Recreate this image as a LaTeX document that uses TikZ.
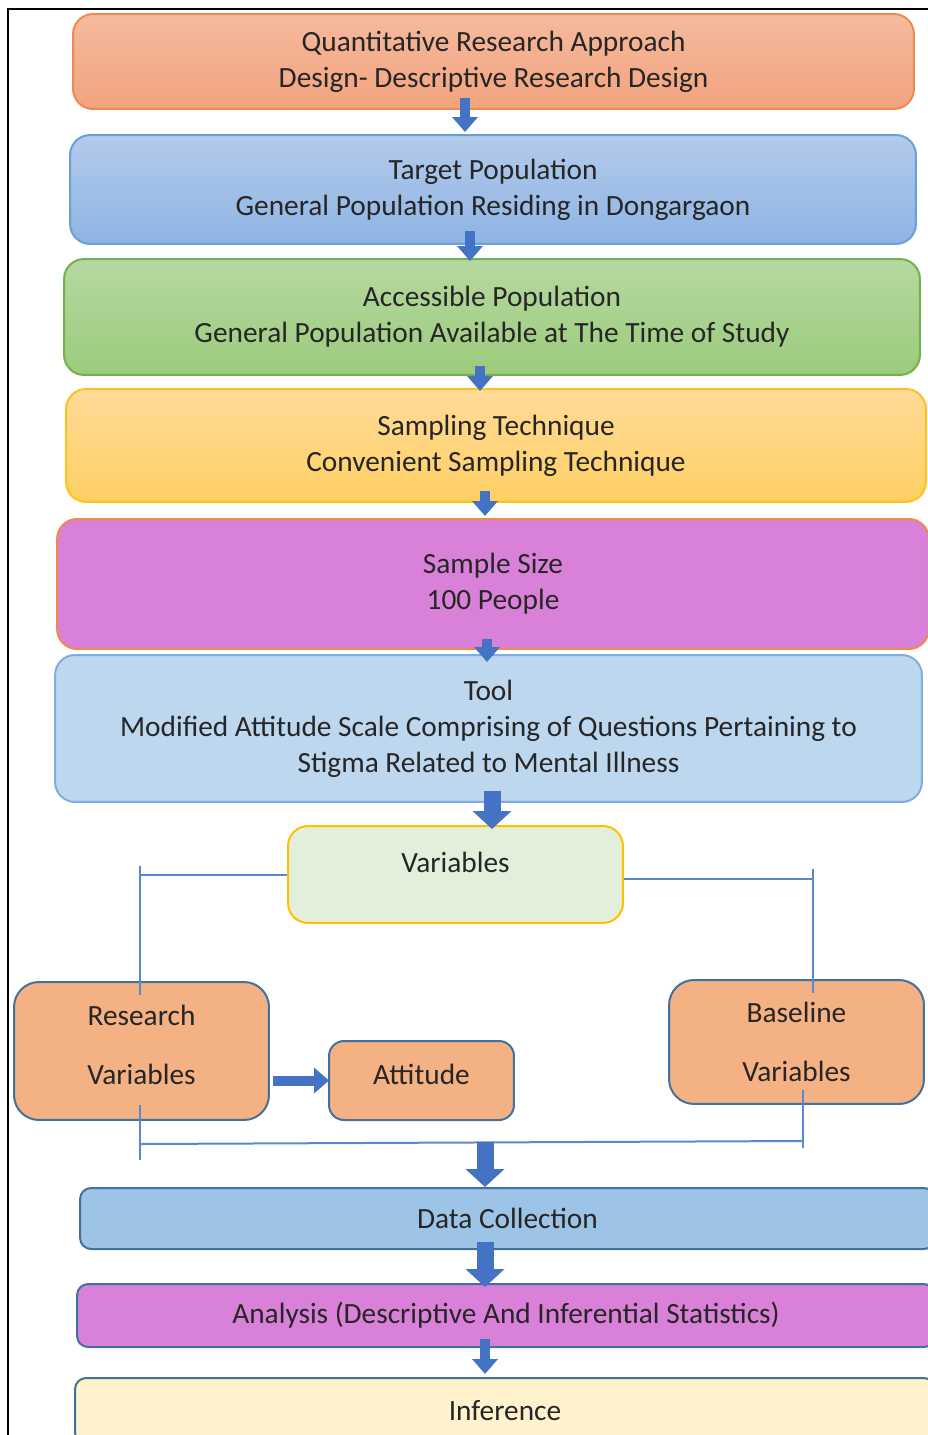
\documentclass[tikz,border=0pt]{standalone}
\usepackage{fontspec}
\setmainfont{Carlito}
\usepackage{xcolor}
\usetikzlibrary{arrows.meta,calc,positioning}
\definecolor{txtgray}{HTML}{262626}
\definecolor{flowblue}{HTML}{4472C4}
\definecolor{linkblue}{HTML}{5A88CF}
\definecolor{edgedark}{HTML}{41719C}
\definecolor{peach}{HTML}{F4B183}
\definecolor{apptop}{HTML}{F5BA9E}
\definecolor{appbot}{HTML}{F2A37E}
\definecolor{appedge}{HTML}{EE8A4F}
\definecolor{tartop}{HTML}{B3CBEB}
\definecolor{tarbot}{HTML}{8EB4E3}
\definecolor{taredge}{HTML}{6A9FD8}
\definecolor{acctop}{HTML}{B6D8A1}
\definecolor{accbot}{HTML}{9BCB7C}
\definecolor{accedge}{HTML}{74B04B}
\definecolor{samtop}{HTML}{FFDB99}
\definecolor{sambot}{HTML}{FFCF63}
\definecolor{samedge}{HTML}{FFC21A}
\definecolor{orchid}{HTML}{D980D9}
\definecolor{toolfill}{HTML}{BDD7EE}
\definecolor{tooledge}{HTML}{7EAEE0}
\definecolor{varfill}{HTML}{E2EFDA}
\definecolor{varedge}{HTML}{FFC000}
\definecolor{colfill}{HTML}{9DC3E6}
\definecolor{inffill}{HTML}{FFF2CC}
\tikzset{%
	stage/.style    = {draw, rectangle, rounded corners=0.4cm, line width=0.04cm, align=center, text=txtgray, font=\fontsize{16.7}{20.5}\selectfont},
	varbox/.style   = {stage, fill=peach, draw=edgedark, rounded corners=0.5cm},
	bar/.style      = {stage, draw=edgedark, rounded corners=0.22cm},
	flow/.style     = {draw=flowblue, line width=0.2cm, -{Triangle[width=0.5cm,length=0.3cm]}},
	bigflow/.style  = {draw=flowblue, line width=0.34cm, -{Triangle[width=0.76cm,length=0.36cm]}},
	link/.style     = {draw=linkblue, line width=0.04cm},
}

\begin{document}
\begin{tikzpicture}[x=0.02cm, y=-0.02cm]
	\clip (0,0) rectangle (928,1435);
	\draw[line width=0.03cm] (8,1435) -- (8,9) -- (928,9);
	% main column
	\node[stage, top color=apptop, bottom color=appbot, draw=appedge, minimum width=16.82cm, minimum height=1.9cm] (approach) at (493.5,61.5) {Quantitative Research Approach\\Design- Descriptive Research Design};
	\node[stage, top color=tartop, bottom color=tarbot, draw=taredge, minimum width=16.92cm, minimum height=2.18cm] (target) at (493,189.5) {Target Population\\General Population Residing in Dongargaon};
	\node[stage, top color=acctop, bottom color=accbot, draw=accedge, minimum width=17.12cm, minimum height=2.32cm] (access) at (492,317) {Accessible Population\\General Population Available at The Time of Study};
	\node[stage, top color=samtop, bottom color=sambot, draw=samedge, minimum width=17.2cm, minimum height=2.26cm] (sampling) at (496,445.5) {Sampling Technique\\Convenient Sampling Technique};
	\node[stage, fill=orchid, draw=appedge, minimum width=17.44cm, minimum height=2.6cm] (size) at (493,584) {Sample Size\\100 People};
	\node[stage, fill=toolfill, draw=tooledge, minimum width=17.34cm, minimum height=2.94cm] (tool) at (488.5,728.5) {Tool\\Modified Attitude Scale Comprising of Questions Pertaining to\\Stigma Related to Mental Illness};
	% variables
	\node[stage, fill=varfill, draw=varedge, minimum width=6.7cm, minimum height=1.94cm] (vars) at (455.5,874.5) {Variables\\[-7pt]\mbox{}};
	\node[varbox, minimum width=5.1cm, minimum height=2.76cm] (resvar) at (141.5,1051) {Research\\[13pt]Variables\\[-13pt]\mbox{}};
	\node[varbox, rounded corners=0.3cm, minimum width=3.7cm, minimum height=1.58cm] (attit) at (421.5,1080.5) {Attitude\\[-13pt]\mbox{}};
	\node[varbox, minimum width=5.1cm, minimum height=2.48cm] (basevar) at (796.5,1042) {Baseline\\[13pt]Variables};
	% lower column
	\node[bar, fill=colfill, minimum width=17.1cm, minimum height=1.22cm] (collect) at (507.5,1218.5) {Data Collection};
	\node[bar, fill=orchid, minimum width=17.16cm, minimum height=1.26cm] (analysis) at (506,1315.5) {Analysis (Descriptive And Inferential Statistics)};
	\node[bar, fill=inffill, minimum width=17.2cm, minimum height=1.32cm] (infer) at (505,1411) {Inference};
	% branch lines
	\coordinate (lt) at (140,866);
	\coordinate (lb) at (140,995);
	\coordinate (rt) at (813,869);
	\coordinate (rb) at (813,993);
	\coordinate (blt) at (140,1105);
	\coordinate (blb) at (140,1160);
	\coordinate (brt) at (803,1090);
	\coordinate (brb) at (803,1148);
	\coordinate (bl) at (140,1144);
	\coordinate (br) at (803,1141);
	\coordinate (join) at (485,1142);
	\draw[link] (vars.west) -- (vars.west -| lt);
	\draw[link] (lt) -- (lb);
	\draw[link] ([yshift=-0.08cm]vars.east) -- ([yshift=-0.08cm]vars.east -| rt);
	\draw[link] (rt) -- (rb);
	\draw[link] (blt) -- (blb);
	\draw[link] (brt) -- (brb);
	\draw[link] (bl) -- (br);
	% block arrows
	\draw[flow] ([xshift=-0.57cm,yshift=0.24cm]approach.south) -- ([xshift=-0.57cm,yshift=0.04cm]approach.south |- target.north);
	\draw[flow] ([xshift=-0.46cm,yshift=0.28cm]target.south) -- ([xshift=-0.46cm,yshift=-0.06cm]target.south |- access.north);
	\draw[flow] ([xshift=-0.24cm,yshift=0.2cm]access.south) -- ([xshift=-0.24cm,yshift=-0.06cm]access.south |- sampling.north);
	\draw[flow] ([xshift=-0.22cm,yshift=0.24cm]sampling.south) -- ([xshift=-0.22cm,yshift=0.04cm]sampling.south |- size.north);
	\draw[flow] ([xshift=-0.12cm,yshift=0.22cm]size.south) -- ([xshift=-0.12cm,yshift=-0.16cm]size.south |- tool.north);
	\draw[bigflow] ([xshift=0.07cm,yshift=0.24cm]tool.south) -- ([xshift=0.07cm,yshift=-0.08cm]tool.south |- vars.north);
	\draw[flow] ([xshift=0.06cm]resvar.east |- attit.west) -- ([xshift=0.02cm]attit.west);
	\draw[bigflow] (join) -- (join |- collect.north);
	\draw[bigflow] ([xshift=-0.45cm,yshift=0.16cm]collect.south) -- ([xshift=-0.45cm,yshift=-0.08cm]collect.south |- analysis.north);
	\draw[flow] ([xshift=-0.42cm,yshift=0.18cm]analysis.south) -- ([xshift=-0.42cm,yshift=0.06cm]analysis.south |- infer.north);
\end{tikzpicture}
\end{document}
